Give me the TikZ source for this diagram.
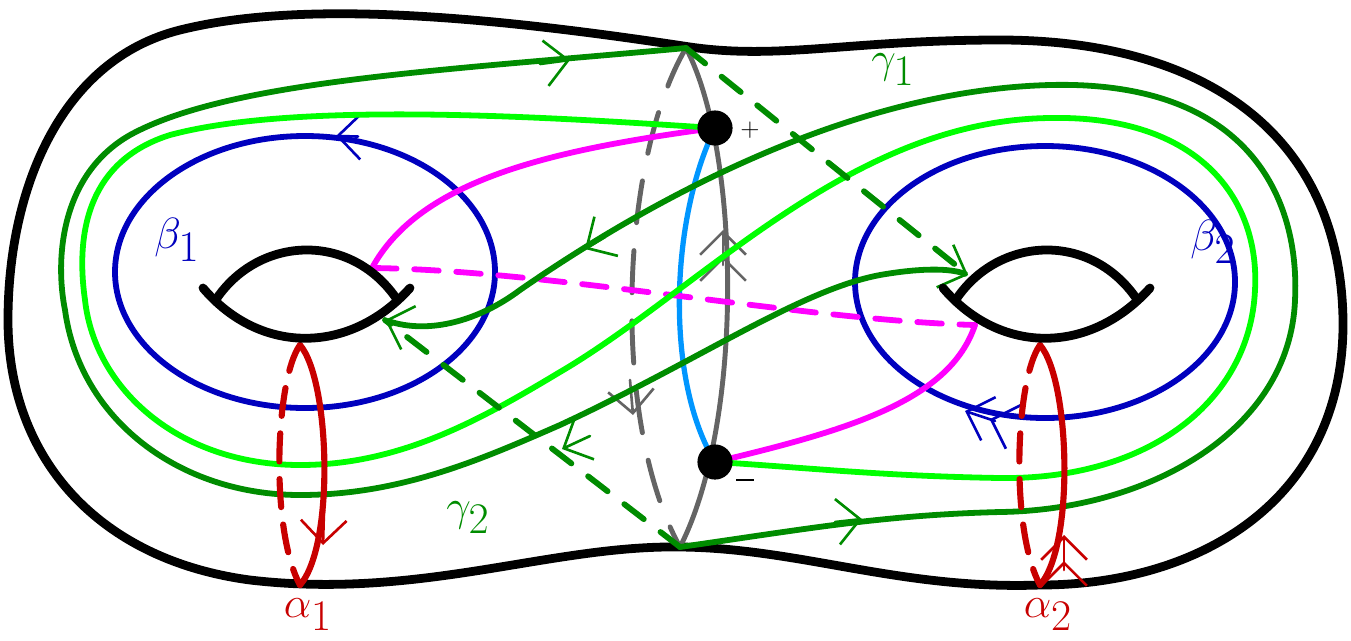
\documentclass[tikz,border=0pt]{standalone}
\usetikzlibrary{arrows.meta}
\begin{document}
\begin{tikzpicture}[x=0.02cm,y=-0.02cm,line cap=round,
  bb/.style={-{Straight Barb[length=13pt,width=26pt,line width=1.5pt]}},
  bbb/.style={-{Straight Barb[length=13pt,width=26pt,line width=1.5pt]Straight Barb[length=13pt,width=26pt,line width=1.5pt]}},
  lab/.style={font=\fontsize{38}{40}\selectfont}]
\definecolor{dg}{RGB}{0,140,0}
\definecolor{lg}{RGB}{0,255,0}
\definecolor{bl}{RGB}{0,0,190}
\definecolor{rd}{RGB}{200,0,0}
\definecolor{mg}{RGB}{255,0,255}
\definecolor{lb}{RGB}{0,150,255}
\definecolor{gr}{RGB}{100,100,100}
\useasboundingbox (0,0) rectangle (1351,640);
% outer surface
\draw[line width=5pt] (690,47) .. controls (480,15) and (300,0) .. (180,30) .. controls (60,60) and (8,190) .. (8,320) .. controls (8,460) and (100,560) .. (250,580) .. controls (420,600) and (550,545) .. (680,547) .. controls (800,548) and (900,590) .. (1040,585) .. controls (1200,585) and (1345,500) .. (1343,320) .. controls (1340,130) and (1200,40) .. (1000,40) .. controls (850,40) and (780,60) .. (690,47);
% blue ellipses
\draw[bl,line width=3.3pt] (305,272) ellipse [x radius=190,y radius=136];
\draw[bl,line width=3.3pt] (1045,282) ellipse [x radius=190,y radius=136];
\draw[bl,line width=1.5pt,bb] (358,136.5) -- (336,136);
\draw[bl,line width=1.5pt,bbb] (995,421) -- (965,411);
% gray
\draw[gr,line width=2.8pt] (686,48) .. controls (740,150) and (745,420) .. (680,547);
\draw[gr,line width=2.8pt,dashed,dash pattern=on 24pt off 16pt] (686,48) .. controls (620,160) and (610,420) .. (680,547);
\draw[gr,line width=1.5pt,bbb] (723,265) -- (723,230);
\draw[gr,line width=1.5pt,bb] (630,380) -- (633,415);
% light blue
\draw[lb,line width=3pt] (715,128) .. controls (670,220) and (665,380) .. (715,462);
% magenta
\draw[mg,line width=3.3pt] (715,128) .. controls (550,150) and (420,180) .. (372,268);
\draw[mg,line width=3.3pt,dashed,dash pattern=on 14pt off 10pt] (372,268) .. controls (550,270) and (800,320) .. (975,325);
\draw[mg,line width=3.3pt] (975,325) .. controls (950,400) and (850,430) .. (715,462);
% light green
\draw[lg,line width=3.3pt] (715,128) .. controls (560,118) and (300,100) .. (170,135) .. controls (90,160) and (75,230) .. (85,300) .. controls (95,390) and (180,465) .. (300,465) .. controls (400,465) and (480,420) .. (560,372) .. controls (700,290) and (850,120) .. (1050,118) .. controls (1200,115) and (1260,200) .. (1255,290) .. controls (1250,400) and (1150,480) .. (1000,478) .. controls (880,476) and (800,467) .. (715,462);
% dark green A
\draw[dg,line width=3.3pt,-{Straight Barb[length=13pt,width=26pt,line width=1.5pt]}] (686,48) .. controls (450,70) and (230,80) .. (130,135) .. controls (60,175) and (55,260) .. (65,310) .. controls (80,420) and (180,495) .. (300,495) .. controls (400,495) and (480,460) .. (560,425) .. controls (700,360) and (800,290) .. (880,275) .. controls (920,268) and (950,268) .. (968,275);
% dark green B
\draw[dg,line width=3.3pt,{Straight Barb[length=13pt,width=26pt,line width=1.5pt]}-] (385,320) .. controls (430,335) and (480,320) .. (520,290) .. controls (650,200) and (850,90) .. (1050,85) .. controls (1250,80) and (1300,200) .. (1295,300) .. controls (1290,430) and (1150,510) .. (1000,512) .. controls (880,515) and (800,530) .. (680,547);
\draw[dg,line width=3.3pt,dashed,dash pattern=on 14pt off 12pt] (686,48) -- (968,275);
\draw[dg,line width=3.3pt,dashed,dash pattern=on 14pt off 12pt] (680,547) -- (385,320);
\draw[dg,line width=1.5pt,bb] (540,64) -- (570,60);
\draw[dg,line width=1.5pt,bb] (605,237) -- (585,249);
\draw[dg,line width=1.5pt,bb] (590,436) -- (562,449);
\draw[dg,line width=1.5pt,bb] (835,522) -- (862,519);
% red
\draw[rd,line width=3.5pt] (300,345) .. controls (330,380) and (335,545) .. (300,585);
\draw[rd,line width=3.5pt,dashed,dash pattern=on 16pt off 10pt] (300,345) .. controls (275,380) and (270,530) .. (300,585);
\draw[rd,line width=3.5pt] (1040,345) .. controls (1070,380) and (1075,545) .. (1040,585);
\draw[rd,line width=3.5pt,dashed,dash pattern=on 16pt off 10pt] (1040,345) .. controls (1015,380) and (1010,530) .. (1040,585);
\draw[rd,line width=1.5pt,bb] (324,510) -- (323,545);
\draw[rd,line width=1.5pt,bbb] (1064,570) -- (1064,535);
% holes
\draw[line width=5pt] (203,288) .. controls (260,355) and (350,355) .. (410,288);
\draw[line width=5pt] (217,298) .. controls (260,236) and (350,232) .. (396,298);
\draw[line width=5pt] (943,288) .. controls (1000,355) and (1090,355) .. (1150,288);
\draw[line width=5pt] (957,298) .. controls (1000,236) and (1090,232) .. (1136,298);
% dots
\node[circle,fill=black,inner sep=0pt,minimum size=20pt] (plus) at (715,128) {};
\node[circle,fill=black,inner sep=0pt,minimum size=20pt] (minus) at (715,462) {};
\node[font=\Large] (pl) at (750,130) {$+$};
\node (mi) at (745,480) {\rule{10pt}{1.2pt}};
% labels
\node[lab,dg] (g1) at (893,70) {$\gamma_1$};
\node[lab,dg] (g2) at (468,518) {$\gamma_2$};
\node[lab,bl] (b1) at (177,240) {$\beta_1$};
\node[lab,bl] (b2) at (1213,242) {$\beta_2$};
\node[lab,rd] (a1) at (308,615) {$\alpha_1$};
\node[lab,rd] (a2) at (1048,615) {$\alpha_2$};
\end{tikzpicture}
\end{document}
